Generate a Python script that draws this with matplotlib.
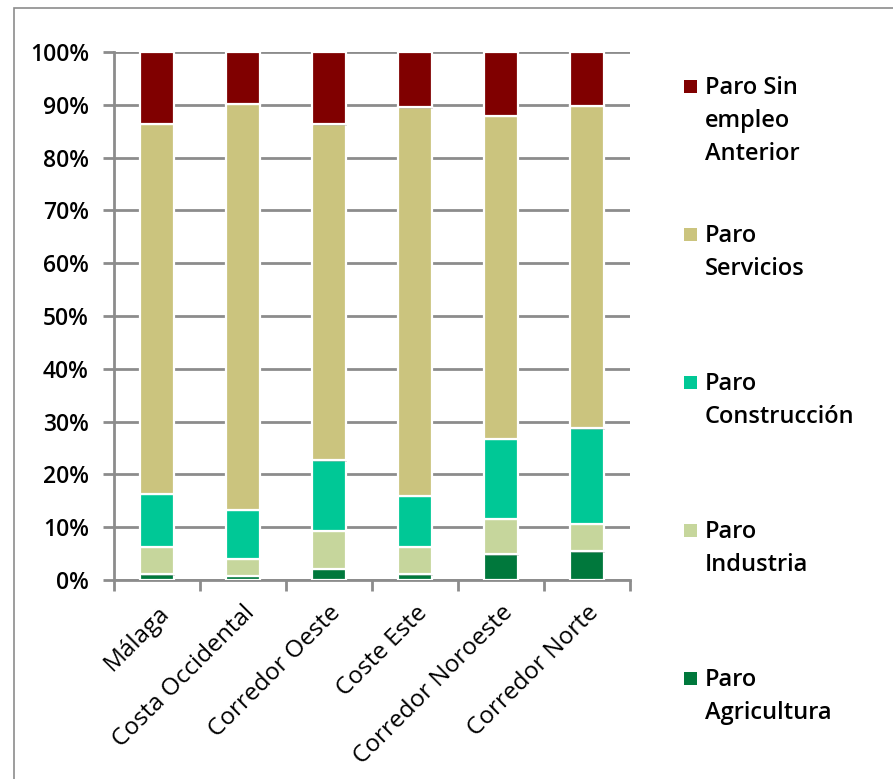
import numpy as np
import matplotlib.pyplot as plt
from matplotlib.patches import Rectangle
import matplotlib.patheffects as pe

# Zonas y porcentajes de paro por sector (cada barra suma 100%)
zonas = ['Málaga', 'Costa Occidental', 'Corredor Oeste', 'Coste Este',
         'Corredor Noroeste', 'Corredor Norte']
agricultura = [1.1, 0.8, 2.1, 1.1, 4.9, 5.4]
industria = [5.2, 3.2, 7.2, 5.2, 6.7, 5.2]
construccion = [10.0, 9.3, 13.4, 9.7, 15.1, 18.1]
servicios = [70.1, 76.9, 63.6, 73.5, 61.2, 61.1]
sin_empleo = [13.6, 9.8, 13.7, 10.5, 12.1, 10.2]

series = [
    ('Paro\nAgricultura', agricultura, '#00783c'),
    ('Paro\nIndustria', industria, '#c6d69c'),
    ('Paro\nConstrucción', construccion, '#00c896'),
    ('Paro\nServicios', servicios, '#cbc47e'),
    ('Paro Sin\nempleo\nAnterior', sin_empleo, '#800000'),
]

plt.rcParams['font.family'] = ['Open Sans', 'DejaVu Sans']

W, H = 893, 779
fig = plt.figure(figsize=(W / 100, H / 100), dpi=100)
ax = fig.add_axes([114 / W, 1 - 580 / H, (630 - 114) / W, (580 - 52) / H])

# marco exterior del gráfico
fig.patches.append(Rectangle((14 / W, -0.1), 1.2, 1 - 8 / H + 0.1,
                             transform=fig.transFigure, fill=False,
                             edgecolor='#8c8c8c', linewidth=1.2))

x = np.arange(len(zonas))
base = np.zeros(len(zonas))
sombra = [pe.SimplePatchShadow(offset=(1, -1), shadow_rgbFace='#999999', alpha=0.35),
          pe.Normal()]
for nombre, valores, color in series:
    vals = np.array(valores) / 100.0
    barras = ax.bar(x, vals, width=0.385, bottom=base, color=color,
                    edgecolor='white', linewidth=1.6, zorder=3)
    for b in barras:
        b.set_path_effects(sombra)
    base += vals

gris = '#8c8c8c'
ax.set_xlim(-0.5, len(zonas) - 0.5)
ax.set_ylim(0, 1)
ax.set_yticks(np.arange(0, 1.01, 0.1))
ax.set_yticklabels([f'{int(round(v * 100))}%' for v in np.arange(0, 1.01, 0.1)],
                   fontsize=16.5, fontweight='semibold')
ax.yaxis.grid(True, color=gris, linewidth=2, zorder=0)
ax.set_axisbelow(True)

ax.set_xticks(x)
ax.set_xticklabels(zonas, rotation=45, ha='right', rotation_mode='anchor',
                   fontsize=17.5)
ax.set_xticks(np.arange(-0.5, len(zonas)), minor=True)
ax.tick_params(axis='x', which='major', length=0, pad=15)
ax.tick_params(axis='x', which='minor', length=8, width=2, color=gris)
ax.tick_params(axis='y', length=8, width=2, color=gris, pad=10)

for lado in ['top', 'right']:
    ax.spines[lado].set_visible(False)
for lado in ['left', 'bottom']:
    ax.spines[lado].set_color(gris)
    ax.spines[lado].set_linewidth(2)

# leyenda a la derecha, de arriba abajo
y0 = 86
for i, (nombre, valores, color) in enumerate(reversed(series)):
    yc = y0 + i * 148
    fig.patches.append(Rectangle(((690 - 6.5) / W, 1 - (yc + 6.5) / H), 13 / W, 13 / H,
                                 transform=fig.transFigure, facecolor=color,
                                 edgecolor='none'))
    fig.text(705 / W, 1 - (yc - 10) / H, nombre, fontsize=17,
             fontweight='semibold', va='top', ha='left', linespacing=1.5)

fig.savefig('out.png', dpi=100)
